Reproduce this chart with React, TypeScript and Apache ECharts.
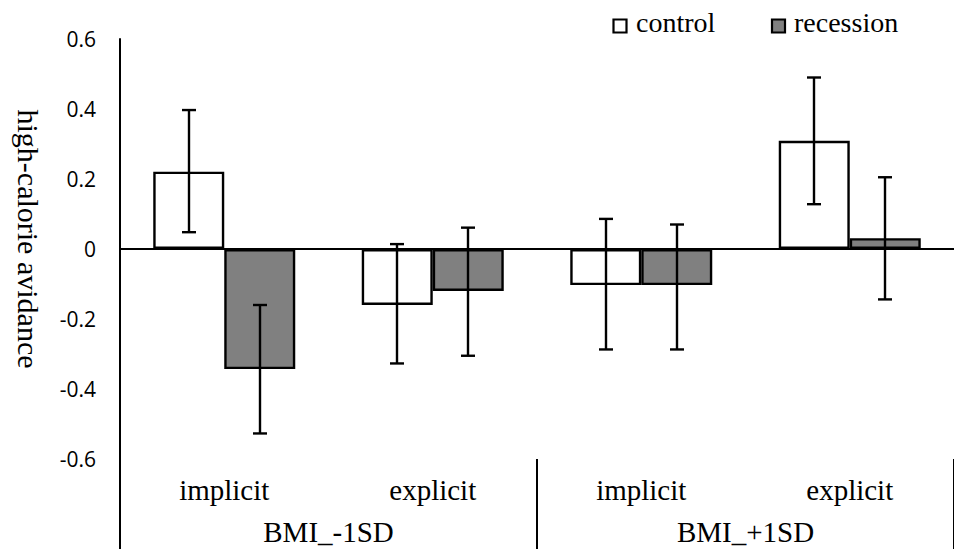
import React, { useEffect, useRef } from "react";
import * as echarts from "echarts";

const categories = ["implicit", "explicit", "implicit", "explicit"];
const groups = ["BMI_-1SD", "BMI_+1SD"];
const seriesNames = ["control", "recession"];
const seriesColors = ["#ffffff", "#808080"];
const controlValues = [0.221, -0.16, -0.103, 0.309];
const recessionValues = [-0.343, -0.12, -0.103, 0.031];
const controlLow = [0.048, -0.327, -0.287, 0.128];
const controlHigh = [0.397, 0.014, 0.086, 0.49];
const recessionLow = [-0.527, -0.305, -0.287, -0.144];
const recessionHigh = [-0.16, 0.061, 0.07, 0.205];
const yTicks = { min: -0.6, max: 0.6, interval: 0.2 };

const SERIF = "Liberation Serif";
const LEGEND_SERIF = "'Times New Roman', 'Liberation Serif', serif";
const SANS = "Open Sans";
const BAR_W = 71;

function errorSeries(name: string, low: number[], high: number[], dir: number) {
  return {
    type: "custom",
    name: name + " error",
    xAxisIndex: 0,
    yAxisIndex: 0,
    z: 10,
    silent: true,
    data: low.map((l, i) => [i, l, high[i]]),
    renderItem: (params: any, api: any) => {
      const cat = api.value(0);
      const lo = api.coord([cat, api.value(1)]);
      const hi = api.coord([cat, api.value(2)]);
      const x = Math.round(lo[0] + (dir * BAR_W) / 2);
      const cap = 7;
      const style = { stroke: "#000", lineWidth: 2.4 };
      return {
        type: "group",
        children: [
          { type: "line", shape: { x1: x, y1: lo[1], x2: x, y2: hi[1] }, style },
          { type: "line", shape: { x1: x - cap, y1: lo[1], x2: x + cap, y2: lo[1] }, style },
          { type: "line", shape: { x1: x - cap, y1: hi[1], x2: x + cap, y2: hi[1] }, style },
        ],
      };
    },
  };
}

const legendPos = [
  { box: 613.5, text: 636 },
  { box: 772, text: 794 },
];

export default function App() {
  const ref = useRef<HTMLDivElement>(null);
  useEffect(() => {
    document.body.style.margin = "0";
    if (!ref.current) return;
    const chart = echarts.init(ref.current, null, { renderer: "svg" });
    const legendGraphics: any[] = [];
    seriesNames.forEach((n, i) => {
      legendGraphics.push({
        type: "rect",
        shape: { x: legendPos[i].box, y: 19.5, width: 13, height: 13 },
        style: { fill: seriesColors[i], stroke: "#000", lineWidth: 2.2 },
        silent: true,
      });
      legendGraphics.push({
        type: "text",
        x: legendPos[i].text,
        y: 8,
        silent: true,
        style: {
          text: n,
          fontFamily: LEGEND_SERIF,
          fontSize: 28,
          lineHeight: 28,
          fill: "#000",
          align: "left",
          verticalAlign: "top",
        },
      });
    });
    chart.setOption({
      animation: false,
      backgroundColor: "#fff",
      textStyle: { fontFamily: SERIF, color: "#000" },
      grid: { left: 120, top: 39, width: 843, height: 420, containLabel: false },
      xAxis: [
        {
          type: "category",
          data: categories,
          position: "bottom",
          axisLine: { show: false, onZero: false },
          axisTick: { show: false },
          axisLabel: {
            fontFamily: SERIF,
            fontSize: 29,
            color: "#000",
            margin: 16,
            lineHeight: 29,
            interval: 0,
          },
          splitLine: { show: false },
        },
        {
          type: "category",
          data: groups,
          position: "bottom",
          offset: 0,
          axisLine: { show: false, onZero: false },
          axisTick: { show: true, length: 92, lineStyle: { color: "#000", width: 2 } },
          axisLabel: {
            fontFamily: SERIF,
            fontSize: 29,
            color: "#000",
            margin: 58,
            lineHeight: 29,
            interval: 0,
          },
          splitLine: { show: false },
        },
      ],
      yAxis: {
        type: "value",
        min: yTicks.min,
        max: yTicks.max,
        interval: yTicks.interval,
        axisLine: { show: true, lineStyle: { color: "#000", width: 2 } },
        axisTick: { show: false },
        splitLine: { show: false },
        axisLabel: {
          fontFamily: SANS,
          fontSize: 21,
          color: "#000",
          margin: 24,
          formatter: (v: number) => String(Math.round(v * 10) / 10),
        },
      },
      graphic: [
        {
          type: "text",
          x: 28,
          y: 239,
          rotation: -Math.PI / 2,
          silent: true,
          style: {
            text: "high-calorie avidance",
            fontFamily: SERIF,
            fontSize: 30,
            fill: "#000",
            textAlign: "center",
            textVerticalAlign: "middle",
            align: "center",
            verticalAlign: "middle",
          },
        },
        ...legendGraphics,
      ],
      series: [
        {
          type: "bar",
          name: seriesNames[0],
          data: controlValues,
          barWidth: BAR_W,
          barGap: "0%",
          itemStyle: { color: seriesColors[0], borderColor: "#000", borderWidth: 2.4 },
          markLine: {
            silent: true,
            symbol: ["none", "none"],
            label: { show: false },
            lineStyle: { color: "#000", width: 2, type: "solid" },
            data: [{ yAxis: 0 }],
          },
        },
        {
          type: "bar",
          name: seriesNames[1],
          data: recessionValues,
          barWidth: BAR_W,
          barGap: "0%",
          itemStyle: { color: seriesColors[1], borderColor: "#000", borderWidth: 2.4 },
        },
        errorSeries(seriesNames[0], controlLow, controlHigh, -1),
        errorSeries(seriesNames[1], recessionLow, recessionHigh, 1),
      ],
    });
    return () => chart.dispose();
  }, []);
  return <div ref={ref} style={{ width: 954, height: 549 }} />;
}
